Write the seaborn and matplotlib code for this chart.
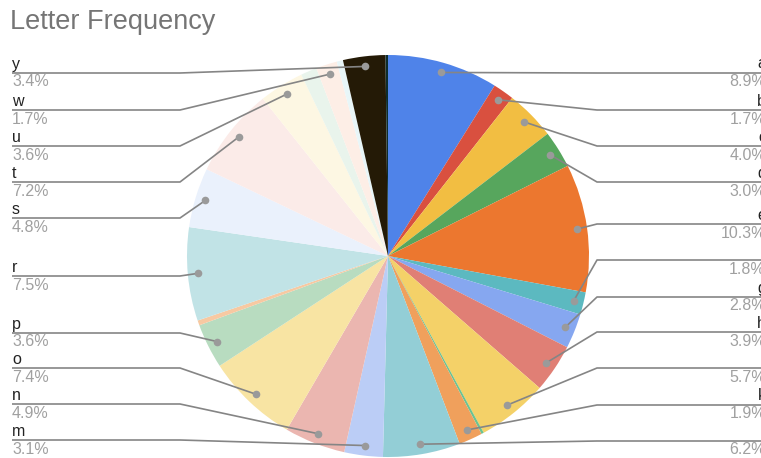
import numpy as np
import matplotlib
matplotlib.use("Agg")
from matplotlib import pyplot as plt
import seaborn as sns

# data
letters = list("abcdefghijklmnopqrstuvwxyz")
shares = [8.9, 1.7, 4.0, 3.0, 10.3, 1.8, 2.8, 3.9, 5.7, 0.2, 1.9, 6.2, 3.1,
          4.9, 7.4, 3.6, 0.4, 7.5, 4.8, 7.2, 3.6, 1.3, 1.7, 0.5, 3.4, 0.2]
slice_colors = ["#4f83e9", "#d9503f", "#f2be42", "#57a65d", "#ec772f",
                "#5cb9c0", "#86a7f0", "#e07f75", "#f4d168", "#6cc391",
                "#f0a05c", "#93ced6", "#bbcdf6", "#ebb6b0", "#f8e4a3",
                "#b8dcc0", "#f7c9a2", "#c1e3e6", "#eaf1fc", "#fbebe8",
                "#fdf7e3", "#e9f4ec", "#fdeee6", "#e8f6f8", "#241a06",
                "#0d2d2d"]
right_letters = list("abcdefghikl")
left_letters = list("mnoprstuwy")

# label layout (pixel rows of the leader lines)
right_rows = [73, 110, 146, 182, 224, 260, 297, 332, 368, 405, 441]
left_rows = [440, 404, 368, 333, 276, 218, 182, 146, 110, 73]

W, H = 761, 458
sns.set_theme(style="white")
plt.rcParams["font.family"] = ["Liberation Sans", "DejaVu Sans"]

fig = plt.figure(figsize=(W / 100, H / 100), dpi=100)
fig.patch.set_facecolor("white")

# pie: centre (388, 256) px, radius 201 px
cx, cy, rad = 388, 256, 201
ax = fig.add_axes([(cx - rad) / W, 1 - (cy + rad) / H, 2 * rad / W, 2 * rad / H])
ax.pie(shares, colors=slice_colors, startangle=90, counterclock=False,
       radius=1, wedgeprops=dict(linewidth=0))
ax.set_aspect("auto")
ax.set_xlim(-1, 1)
ax.set_ylim(-1, 1)
ax.set_axis_off()

# overlay in pixel coords for labels
ov = fig.add_axes([0, 0, 1, 1])
ov.set_xlim(0, W)
ov.set_ylim(H, 0)
ov.set_axis_off()
ov.patch.set_alpha(0)

total = sum(shares)
cum = np.cumsum([0] + shares[:-1])
dot_pos = {}
for letter, start, s in zip(letters, cum, shares):
    theta = np.deg2rad(90 - 360 * (start + s / 2) / total)
    pt = ax.transData.transform((0.95 * np.cos(theta), 0.95 * np.sin(theta)))
    dot_pos[letter] = ov.transData.inverted().transform(pt)

line_kw = dict(color="#858585", lw=1.2, solid_capstyle="butt")
lab_kw = dict(fontsize=11.5, color="#222222")
pct_kw = dict(fontsize=11.5, color="#a0a0a0")


def pct_text(letter):
    return f"{shares[letters.index(letter)] / total * 100:.1f}%"


for letter, row in zip(right_letters, right_rows):
    dx, dy = dot_pos[letter]
    ov.plot([dx, 597, W], [dy, row, row], **line_kw)
    ov.plot(dx, dy, "o", color="#9a9a9a", ms=5.5, mec="none")
    ov.text(766, row - 1.5, letter, ha="right", va="bottom", **lab_kw)
    ov.text(766, row + 1.5, pct_text(letter), ha="right", va="top", **pct_kw)

for letter, row in zip(left_letters, left_rows):
    dx, dy = dot_pos[letter]
    ov.plot([12, 180, dx], [row, row, dy], **line_kw)
    ov.plot(dx, dy, "o", color="#9a9a9a", ms=5.5, mec="none")
    ov.text(12, row - 1.5, letter, ha="left", va="bottom", **lab_kw)
    ov.text(12, row + 1.5, pct_text(letter), ha="left", va="top", **pct_kw)

ov.text(10, 22, "Letter Frequency", ha="left", va="center",
        fontsize=19.5, color="#757575")

fig.savefig("out.png", dpi=100)
